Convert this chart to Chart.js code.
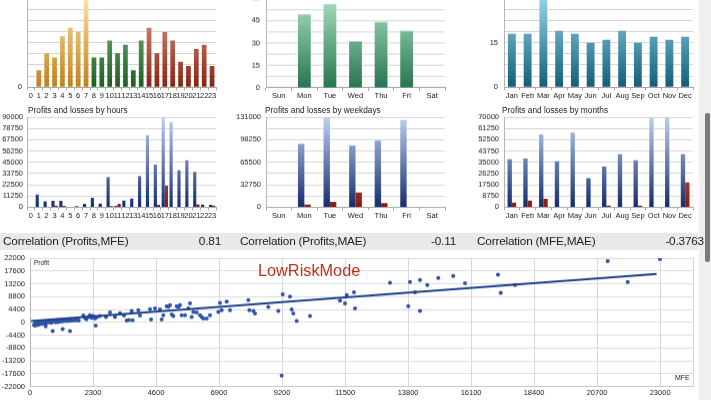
<!DOCTYPE html>
<html><head><meta charset="utf-8">
<script src="https://cdn.jsdelivr.net/npm/chart.js@4/dist/chart.umd.min.js"></script>
<style>
html,body{margin:0;padding:0;background:#fff;width:711px;height:400px;overflow:hidden;position:relative;font-family:"Liberation Sans",Arial,sans-serif}
.box{position:absolute}
.box canvas{display:block}
.title{position:absolute;font-size:8.3px;line-height:10px;color:#222;white-space:nowrap}
#corr{position:absolute;left:0;top:233px;width:698px;height:17px;background:#e9e9e9}
#corr span{position:absolute;top:0;line-height:17px;font-size:11.8px;color:#222;white-space:nowrap;letter-spacing:-0.2px}
#track{position:absolute;left:699px;top:0;width:12px;height:400px;background:#efefef}
#thumb{position:absolute;left:705px;top:113px;width:5px;height:149px;background:#7a7a7a;border-radius:2px}
.note{position:absolute;white-space:nowrap;color:#222}
</style></head><body>
<div id="track"></div><div id="thumb"></div>
<div id="c1" class="box"><canvas></canvas></div>
<div id="c2" class="box"><canvas></canvas></div>
<div id="c3" class="box"><canvas></canvas></div>
<div id="c4" class="box"><canvas></canvas></div>
<div id="c5" class="box"><canvas></canvas></div>
<div id="c6" class="box"><canvas></canvas></div>
<div id="c7" class="box"><canvas></canvas></div>
<div id="corr"></div>
<div id="titles"></div>
<div class="note" id="lowrisk" style="left:258px;top:261px;font-size:16.3px;line-height:18px;color:#c4301f">LowRiskMode</div>
<div class="note" style="left:34px;top:259px;font-size:6.5px;line-height:8px">Profit</div>
<div class="note" style="left:675px;top:374px;font-size:7px;line-height:8px">MFE</div>
<script>
// ---------- data ----------
const hourLabels = ['0','1','2','3','4','5','6','7','8','9','10','11','12','13','14','15','16','17','18','19','20','21','22','23'];
const hourCounts = [0,4,8,7,12,14,13,21,7,7,11,8,10,4,11,14,8,13,11,6,5,9,10,5];
const dayLabels = ['Sun','Mon','Tue','Wed','Thu','Fri','Sat'];
const dayCounts = [0,49,56,31,44,38,0];
const monthLabels = ['Jan','Feb','Mar','Apr','May','Jun','Jul','Aug','Sep','Oct','Nov','Dec'];
const monthCounts = [18,18,30,19,18,15,16,19,15,17,16,17];

const hourProfits = [0,12800,6000,6400,6400,500,1200,3300,9400,3800,30200,1300,6700,8700,31200,72000,42600,90000,85000,37000,47000,35300,2700,2300];
const hourLosses  = [0,0,0,1700,1300,0,0,0,0,0,1200,3400,0,0,0,0,2300,21600,0,0,0,3000,0,1600];
const dayProfits = [0,92000,131000,89500,96800,127000,0];
const dayLosses  = [0,3900,7800,21500,5900,500,0];
const monthProfits = [37400,37900,56400,35800,58000,22700,31600,41300,36600,72000,72000,41300];
const monthLosses  = [3700,5200,6500,0,0,300,1300,0,1300,0,0,19300];

const hourCountTicks = [0,2.625,5.25,7.875,10.5,13.125,15.75,18.375,21];
const hourCountLabelled = [0,21];
const dayCountTicks = [0,7.5,15,22.5,30,37.5,45,52.5,60];
const dayCountLabelled = [0,15,30,45,60];
const monthCountTicks = [0,3.75,7.5,11.25,15,18.75,22.5,26.25,30];
const monthCountLabelled = [0,15,30];
const hourProfitTicks = [0,11250,22500,33750,45000,56250,67500,78750,90000];
const dayProfitTicks = [0,16375,32750,49125,65500,81875,98250,114625,131000];
const dayProfitLabelled = [0,32750,65500,98250,131000];
const monthProfitTicks = [0,8750,17500,26250,35000,43750,52500,61250,70000];

const scatterXTicks = [0,2300,4600,6900,9200,11500,13800,16100,18400,20700,23000,24200];
const scatterXLabelled = [0,2300,4600,6900,9200,11500,13800,16100,18400,20700,23000];
const scatterYTicks = [-22000,-17600,-13200,-8800,-4400,0,4400,8800,13200,17600,22000];

// [MFE, Profit]
const scatterPoints = [
 [150,-900],[170,-500],[190,-1100],[210,-700],[230,-300],[250,-900],[270,-500],[290,-200],[310,-800],[330,-400],
 [350,-100],[370,-600],[390,-300],[410,0],[440,-500],[460,-150],[490,150],[510,-350],[540,50],[570,-250],
 [600,250],[630,-50],[660,350],[690,50],[720,450],[750,150],[780,-100],[810,500],[840,250],[870,600],
 [900,300],[930,50],[960,700],[990,400],[1020,150],[1050,800],[1080,500],[1110,250],[1140,850],[1170,600],
 [1200,350],[1230,950],[1260,700],[1290,450],[1320,1000],[1350,750],[1380,500],[1410,1050],[1440,800],[1470,550],
 [1500,1100],[1530,850],[1560,650],[1590,1000],[1620,750],[1660,950],[1700,700],[1740,850],[1780,600],
 [572,-1330],[827,-2940],[1192,-2250],[1460,-2940],[2397,-1100],
 [1947,2345],[2008,1541],[2060,1100],[2129,1886],[2190,2460],[2251,1541],[2312,2231],[2373,1312],[2440,1800],[2555,2231],
 [2774,1886],[2920,3379],[3103,1886],[3285,3150],[3431,2345],[3528,622],[3614,852],[3711,3953],[3747,737],[3954,4183],
 [4015,2345],[4380,4528],[4417,967],[4563,4758],[4745,4413],[4806,967],[4867,2460],[4989,5562],[5049,5332],[5110,5906],
 [5171,2690],[5232,2231],[5354,5562],[5414,5332],[5475,5906],[5536,2460],[5658,2460],[5779,4758],[5840,6481],[5901,1886],
 [5962,3609],[6084,3379],[6205,2460],[6266,1886],[6327,1312],[6449,1312],[6570,2460],[6875,3609],[6935,6710],[6996,4183],
 [7179,7055],[7300,4183],[7969,7630],[8006,4183],[8152,3953],[8213,3035],[8699,5332],[9064,3953],[9223,9582],[9490,8778],
 [9551,4413],[9612,3035],[9734,507],[10220,2231],[9186,-18216],[11315,7400],[11498,6481],[11559,9352],
 [11826,10284],[11863,4770],[13140,13592],[13808,5563],[13870,13833],[14053,10284],[14235,14522],[14235,3943],
 [14501,12799],[14903,15211],[15450,15900],[15878,13385],[17082,16349],[17181,10146],[17703,12799],
 [21086,20966],[21816,13833],[22995,21655]
];
const trendLine = [[40,450],[22870,16550]];

const correlationLabels = ['Correlation (Profits,MFE)','Correlation (Profits,MAE)','Correlation (MFE,MAE)'];
const correlationValues = ['0.81','-0.11','-0.3763'];
const chartTitles = ['Profits and losses by hours','Profits and losses by weekdays','Profits and losses by months'];

// ---------- setup ----------
const FF = '"Liberation Sans", Arial, sans-serif';
Chart.defaults.font.family = FF;
Chart.defaults.animation = false;
Chart.defaults.plugins.legend.display = false;
Chart.defaults.plugins.tooltip.enabled = false;
Chart.defaults.color = '#222';

function frame(id, L, T, R, B, yw, xh, padTop, padRight) {
  const d = document.getElementById(id);
  d.style.left = (L - yw) + 'px';
  d.style.top = (T - padTop) + 'px';
  d.style.width = (R - L + yw + padRight) + 'px';
  d.style.height = (B - T + padTop + xh) + 'px';
  return d.querySelector('canvas');
}
function gradFill(top, bottom) {
  return (ctx) => {
    const a = ctx.chart.chartArea;
    if (!a) return bottom;
    const g = ctx.chart.ctx.createLinearGradient(0, a.top, 0, a.bottom);
    g.addColorStop(0, top); g.addColorStop(1, bottom);
    return g;
  };
}
function yAxis(tickVals, labelled, yw, pad) {
  return {
    type: 'linear', min: tickVals[0], max: tickVals[tickVals.length - 1],
    afterBuildTicks: s => { s.ticks = tickVals.map(v => ({value: v})); },
    afterFit: s => { s.width = yw; },
    ticks: {autoSkip: false, padding: pad, color: '#222', font: {size: 7.5},
            callback: v => (labelled ? labelled.includes(v) : true) ? String(v) : ''},
    grid: {color: '#d6d6d6', drawTicks: false},
    border: {display: true, color: '#b5b5b5'}
  };
}
function xCat(xh, pad) {
  return {
    type: 'category',
    afterFit: s => { s.height = xh; },
    ticks: {autoSkip: false, maxRotation: 0, minRotation: 0, padding: pad, color: '#222', font: {size: 7.5}},
    grid: {display: true, drawOnChartArea: false, drawTicks: true, tickLength: 3, color: '#a8a8a8', offset: true},
    border: {display: true, color: '#a8a8a8'}
  };
}
function opts(padTop, padRight, y, x) {
  return {responsive: true, maintainAspectRatio: false, devicePixelRatio: 1,
    layout: {padding: {top: padTop, right: padRight, left: 0, bottom: 0}},
    scales: {x: x, y: y}};
}

const PT = 12, PR = 4;

// hours count
const orange = gradFill('#fbe4a8', '#c27f18');
const green = gradFill('#8cc68c', '#1b5e22');
const red = gradFill('#e3a292', '#8a2210');
new Chart(frame('c1', 27, -2, 216, 87.3, 27, 14, PT, PR), {
  type: 'bar',
  data: {labels: hourLabels, datasets: [{data: hourCounts, barPercentage: 0.6, categoryPercentage: 1,
    backgroundColor: ctx => (ctx.dataIndex <= 7 ? orange : ctx.dataIndex <= 14 ? green : red)(ctx)}]},
  options: opts(PT, PR, yAxis(hourCountTicks, hourCountLabelled, 27, 5), xCat(14, 1))
});
// weekdays count
new Chart(frame('c2', 266, -1.6, 445, 87.3, 30, 14, PT, PR), {
  type: 'bar',
  data: {labels: dayLabels, datasets: [{data: dayCounts, barPercentage: 0.5, categoryPercentage: 1,
    backgroundColor: gradFill('#a8dfc0', '#267650')}]},
  options: opts(PT, PR, yAxis(dayCountTicks, dayCountLabelled, 30, 6), xCat(14, 1))
});
// months count
new Chart(frame('c3', 504, -2, 693, 87.3, 30, 14, PT, PR), {
  type: 'bar',
  data: {labels: monthLabels, datasets: [{data: monthCounts, barPercentage: 0.5, categoryPercentage: 1,
    backgroundColor: gradFill('#92d5e8', '#115d7a')}]},
  options: opts(PT, PR, yAxis(monthCountTicks, monthCountLabelled, 30, 6), xCat(14, 1))
});

const blue = gradFill('#bcd0f2', '#132d6e');
const lossRed = gradFill('#e88070', '#8a1a0e');
function plDatasets(p, l, cp) {
  return [
    {data: p, backgroundColor: blue, barPercentage: 1, categoryPercentage: cp},
    {data: l, backgroundColor: lossRed, barPercentage: 1, categoryPercentage: cp}
  ];
}
new Chart(frame('c4', 27, 117.3, 216, 206.7, 27, 16, PT, PR), {
  type: 'bar',
  data: {labels: hourLabels, datasets: plDatasets(hourProfits, hourLosses, 0.8)},
  options: opts(PT, PR, yAxis(hourProfitTicks, null, 27, 4), xCat(16, 1.5))
});
new Chart(frame('c5', 266, 117.3, 445, 206.7, 40, 16, PT, PR), {
  type: 'bar',
  data: {labels: dayLabels, datasets: plDatasets(dayProfits, dayLosses, 0.5)},
  options: opts(PT, PR, yAxis(dayProfitTicks, dayProfitLabelled, 40, 5), xCat(16, 1))
});
new Chart(frame('c6', 504, 117.3, 693, 206.7, 35, 16, PT, PR), {
  type: 'bar',
  data: {labels: monthLabels, datasets: plDatasets(monthProfits, monthLosses, 0.55)},
  options: opts(PT, PR, yAxis(monthProfitTicks, null, 35, 5), xCat(16, 1))
});

// scatter
const sx = {
  type: 'linear', min: 0, max: scatterXTicks[scatterXTicks.length - 1],
  afterBuildTicks: s => { s.ticks = scatterXTicks.map(v => ({value: v})); },
  afterFit: s => { s.height = 14; },
  ticks: {autoSkip: false, maxRotation: 0, padding: 2, color: '#222', font: {size: 7.5},
          callback: v => scatterXLabelled.includes(v) ? String(v) : ''},
  grid: {color: '#d8d8d8', drawTicks: false},
  border: {display: true, color: '#c8c8c8'}
};
const sy = yAxis(scatterYTicks, null, 30, 5);
sy.grid.color = '#dcdcdc';
new Chart(frame('c7', 30, 258.3, 693, 386, 30, 14, PT, PR), {
  type: 'scatter',
  data: {datasets: [
    {data: scatterPoints.map(p => ({x: p[0], y: p[1]})), pointRadius: 2, pointBackgroundColor: '#2d55a8',
     pointBorderWidth: 0, order: 2},
    {type: 'line', data: trendLine.map(p => ({x: p[0], y: p[1]})), borderColor: '#1c3f8c', borderWidth: 2,
     pointRadius: 0, showLine: true, fill: false, order: 1}
  ]},
  options: opts(PT, PR, sy, sx)
});

// text rows
const titlePos = [[28, 105], [265, 105], [502, 105]];
const tEl = document.getElementById('titles');
chartTitles.forEach((t, i) => {
  const d = document.createElement('div');
  d.className = 'title'; d.textContent = t;
  d.style.left = titlePos[i][0] + 'px'; d.style.top = titlePos[i][1] + 'px';
  tEl.appendChild(d);
});
const corr = document.getElementById('corr');
const labelX = [3, 240, 477], valueRight = [221, 456, 704];
correlationLabels.forEach((t, i) => {
  const a = document.createElement('span'); a.textContent = t; a.style.left = labelX[i] + 'px'; corr.appendChild(a);
  const b = document.createElement('span'); b.textContent = correlationValues[i];
  b.style.right = (698 - valueRight[i]) + 'px'; corr.appendChild(b);
});
</script>
</body></html>
